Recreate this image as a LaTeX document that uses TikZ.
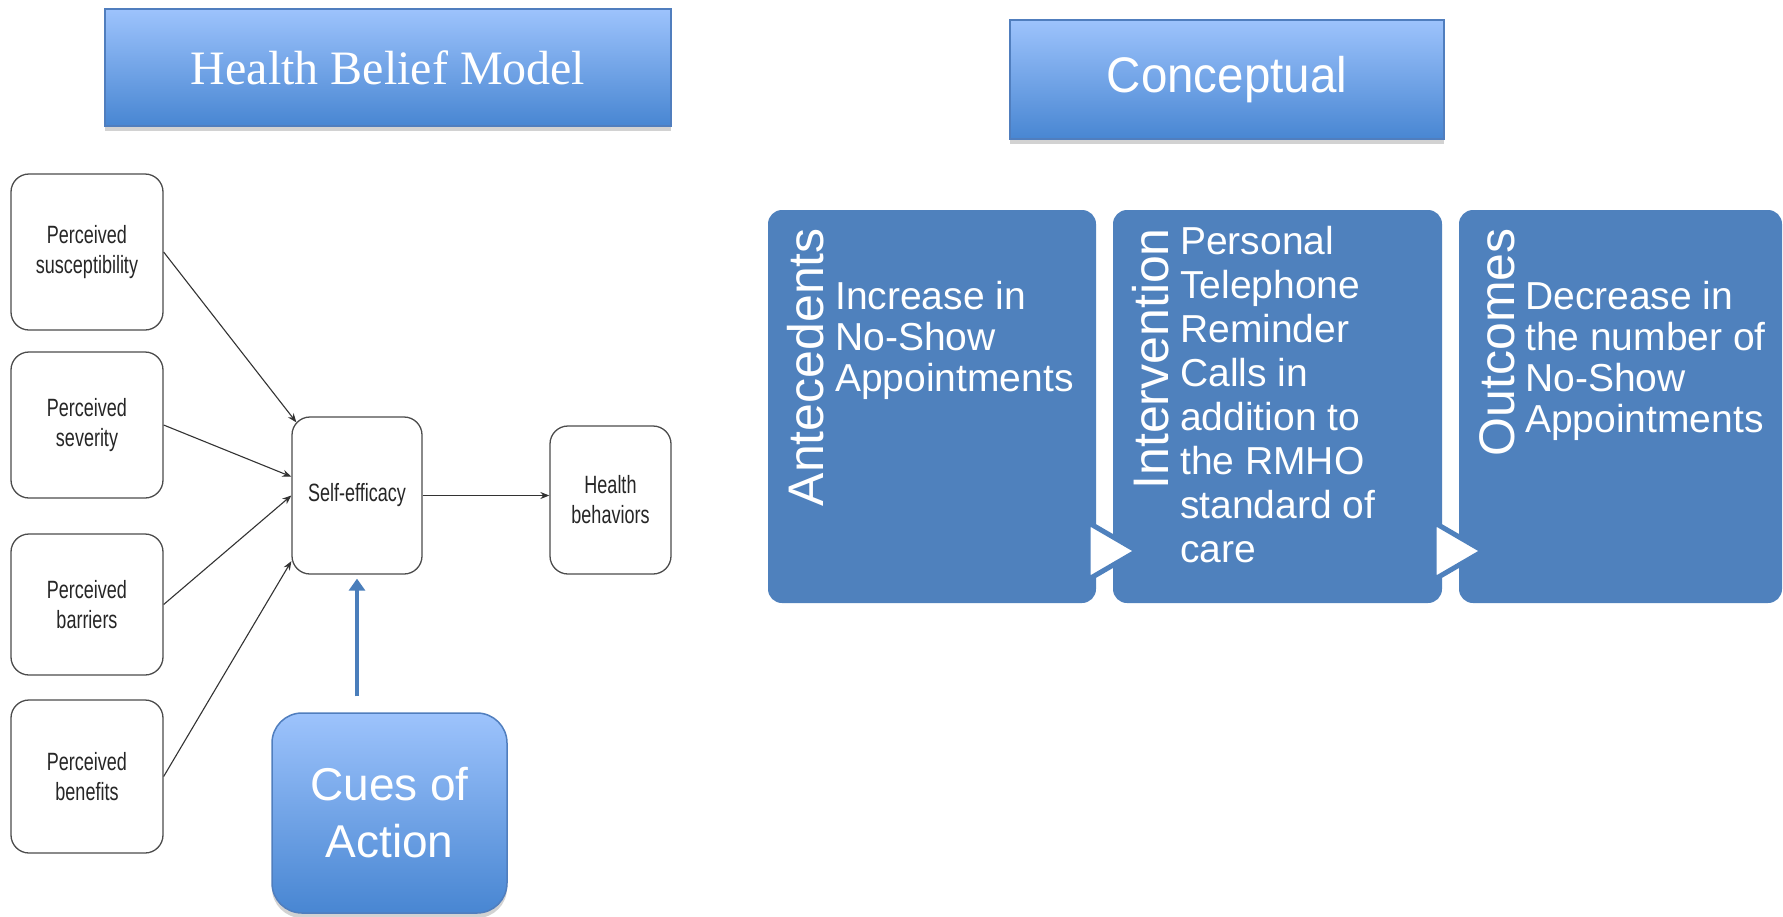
\documentclass[tikz,border=0pt]{standalone}
\usepackage{fontspec}
\setmainfont{Liberation Sans}
\newfontfamily\hbmserif{Liberation Serif}
\newfontfamily\hbmnarrow[FakeStretch=0.72]{Liberation Sans}
\newfontfamily\conceptfont[FakeStretch=0.95]{Liberation Sans}
\usetikzlibrary{arrows.meta,shadows,calc}
\definecolor{boxblue}{RGB}{79,129,189}
\definecolor{gradtop}{RGB}{157,195,252}
\definecolor{gradbot}{RGB}{72,134,210}
\definecolor{gradline}{RGB}{80,126,190}
\definecolor{cuearrow}{RGB}{74,126,187}
\begin{document}
\begin{tikzpicture}[x=1pt,y=-1pt,
 gradbox/.style={draw=gradline, line width=1.5pt, top color=gradtop, bottom color=gradbot,
   drop shadow={shadow xshift=0pt,shadow yshift=-5pt,opacity=0.35},
   text=white, inner sep=0pt, align=center},
 hbmbox/.style={draw=black!70, line width=1.3pt, rounded corners=18pt, fill=white, inner sep=0pt,
   align=center, text=black!85, font=\hbmnarrow\fontsize{25}{30}\selectfont},
 stage/.style={fill=boxblue, rounded corners=14pt, inner sep=0pt},
 stagelabel/.style={rotate=90, anchor=base east, inner sep=0pt, text=white, font=\fontsize{50}{60}\selectfont},
 stagetext/.style={anchor=north west, inner sep=0pt, align=left, text=white},
 thinarrow/.style={draw=black!80, line width=1.1pt, -{Stealth[length=9pt,width=7pt]}},
 cuearr/.style={draw=cuearrow, line width=4.5pt, -{Triangle[length=12pt,width=16pt]}},
 notch/.style={fill=white, draw=boxblue, line width=5pt, line join=miter},
]
\useasboundingbox (0,0) rectangle (1783,916);
\fill[white] (0,0) rectangle (1783,916);

% ---- Health Belief Model side ----
\node[gradbox, minimum width=566pt, minimum height=117pt, font=\hbmserif\fontsize{48}{58}\selectfont]
  (hbm) at (388,67.5) {Health Belief Model};

\node[hbmbox, minimum width=152pt, minimum height=156pt] (sus) at (87,252) {Perceived\\susceptibility};
\node[hbmbox, minimum width=152pt, minimum height=146pt] (sev) at (87,425) {Perceived\\severity};
\node[hbmbox, minimum width=152pt, minimum height=141pt] (bar) at (87,604.5) {Perceived\\barriers};
\node[hbmbox, minimum width=152pt, minimum height=153pt] (ben) at (87,776.5) {Perceived\\benefits};
\node[hbmbox, minimum width=130pt, minimum height=157pt] (se) at (357,495.5) {Self-efficacy};
\node[hbmbox, minimum width=121pt, minimum height=148pt] (hb) at (610.5,500) {Health\\behaviors};

\draw[thinarrow] (sus.east) -- ($(se.north west)+(5,6)$);
\draw[thinarrow] (sev.east) -- (se.164);
\draw[thinarrow] (bar.east) -- (se.west);
\draw[thinarrow] (ben.east) -- (se.225);
\draw[thinarrow] (se.east) -- (se.east -| hb.west);

\node[gradbox, rounded corners=30pt, minimum width=235pt, minimum height=200pt, font=\fontsize{46}{57}\selectfont]
  (cues) at (389.5,813) {Cues of\\Action};
\draw[cuearr, shorten <=16pt, shorten >=4pt] (cues.north -| se.south) -- (se.south);

% ---- Conceptual side ----
\node[gradbox, minimum width=434pt, minimum height=119pt, font=\conceptfont\fontsize{50}{60}\selectfont]
  (concept) at (1227,79.5) {Conceptual};

\node[stage, minimum width=328pt, minimum height=393pt] (ante) at (932,406.5) {};
\node[stage, minimum width=329pt, minimum height=393pt] (inter) at (1277.5,406.5) {};
\node[stage, minimum width=323pt, minimum height=393pt] (outc) at (1620.5,406.5) {};

\draw[notch] ($(ante.east)+(-8,116)$) -- ($(ante.east)+(41,144.5)$) -- ($(ante.east)+(-8,173)$) -- cycle;
\draw[notch] ($(inter.east)+(-8,116)$) -- ($(inter.east)+(41,144.5)$) -- ($(inter.east)+(-8,173)$) -- cycle;

\node[stagelabel] (antel) at (823,228) {Antecedents};
\node[stagelabel] (interl) at (1168,228) {Intervention};
\node[stagelabel] (outl) at (1514,228) {Outcomes};

\node[stagetext, font=\fontsize{39}{41}\selectfont] (antet) at (835,281) {Increase in\\No-Show\\Appointments};
\node[stagetext, font=\fontsize{39}{44}\selectfont] (intert) at (1180,226)
  {Personal\\Telephone\\Reminder\\Calls in\\addition to\\the RMHO\\standard of\\care};
\node[stagetext, font=\fontsize{39}{41}\selectfont] (outt) at (1525,281) {Decrease in\\the number of\\No-Show\\Appointments};
\end{tikzpicture}
\end{document}
